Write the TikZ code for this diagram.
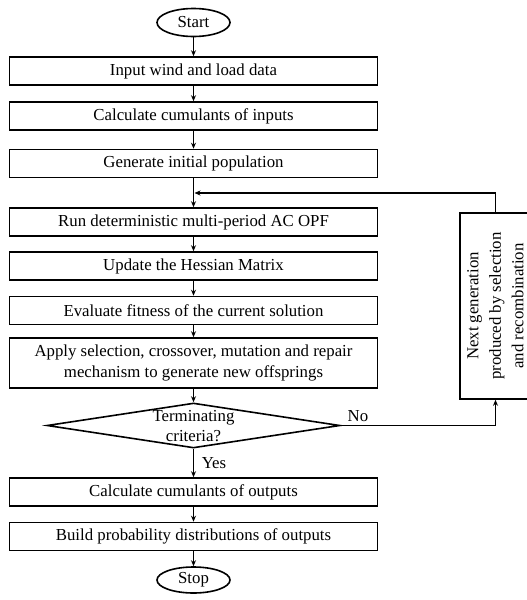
\documentclass[tikz,border=0pt]{standalone}
\usepackage{fontspec}
\setmainfont{Liberation Serif}
\usetikzlibrary{shapes.geometric,arrows.meta}
\begin{document}
\begin{tikzpicture}[x=1pt,y=-1pt,
  every node/.style={font=\fontsize{16.8}{20.5}\selectfont},
  proc/.style={draw,line width=1.6pt,rectangle,minimum width=368pt,minimum height=28pt,inner sep=2pt,align=center},
  term/.style={draw,line width=1.6pt,ellipse,minimum width=73pt,minimum height=28pt,inner sep=0pt},
  arr/.style={line width=1.6pt,-{Stealth[length=6pt,width=5pt]}},
  lbl/.style={inner sep=0pt}]
\useasboundingbox (0,0) rectangle (527,600);
\clip (0,0) rectangle (527,600);
\node[term] (start) at (193.5,22.5) {Start};
\node[proc] (b1) at (193.5,71) {Input wind and load data};
\node[proc] (b2) at (193.5,116) {Calculate cumulants of inputs};
\node[proc] (b3) at (193.5,163.5) {Generate initial population};
\node[proc] (b4) at (193.5,222) {Run deterministic multi-period AC OPF};
\node[proc] (b5) at (193.5,266) {Update the Hessian Matrix};
\node[proc] (b6) at (193.5,310.5) {Evaluate fitness of the current solution};
\node[proc,minimum height=50pt] (b7) at (193.5,363) {Apply selection, crossover, mutation and repair\\mechanism to generate new offsprings};
\node[draw,line width=1.6pt,diamond,minimum width=293pt,minimum height=45pt,inner sep=0pt] (dec) at (193.5,425.5) {};
\node[lbl,align=center,font=\fontsize{16.8}{20}\selectfont] (dect) at (193.5,426) {Terminating\\criteria?};
\node[proc] (b8) at (193.5,492) {Calculate cumulants of outputs};
\node[proc] (b9) at (193.5,536.5) {Build probability distributions of outputs};
\node[term,minimum height=26pt] (stop) at (193.5,580) {Stop};
\node[draw,line width=1.6pt,rotate=90,minimum width=186pt,minimum height=71pt,inner sep=2pt,align=center,font=\fontsize{16.8}{22.5}\selectfont] (side) at (495.5,306) {Next generation\\produced by selection\\and recombination};
\coordinate (j) at (194.5,193);
\draw[arr] (start) -- (b1);
\draw[arr] (b1) -- (b2);
\draw[arr] (b2) -- (b3);
\draw[arr] (b3) -- (b4);
\draw[arr] (b4) -- (b5);
\draw[arr] (b5) -- (b6);
\draw[arr] (b6) -- (b7);
\draw[arr] (b7) -- (dec);
\draw[arr] (dec) -- (b8);
\node[lbl] (yes) at (214,463) {Yes};
\draw[arr] (b8) -- (b9);
\draw[arr] (b9) -- (stop);
\draw[arr] (dec.east) -| (side);
\node[lbl] (no) at (358,416) {No};
\draw[arr] (side) |- (j);
\end{tikzpicture}
\end{document}
